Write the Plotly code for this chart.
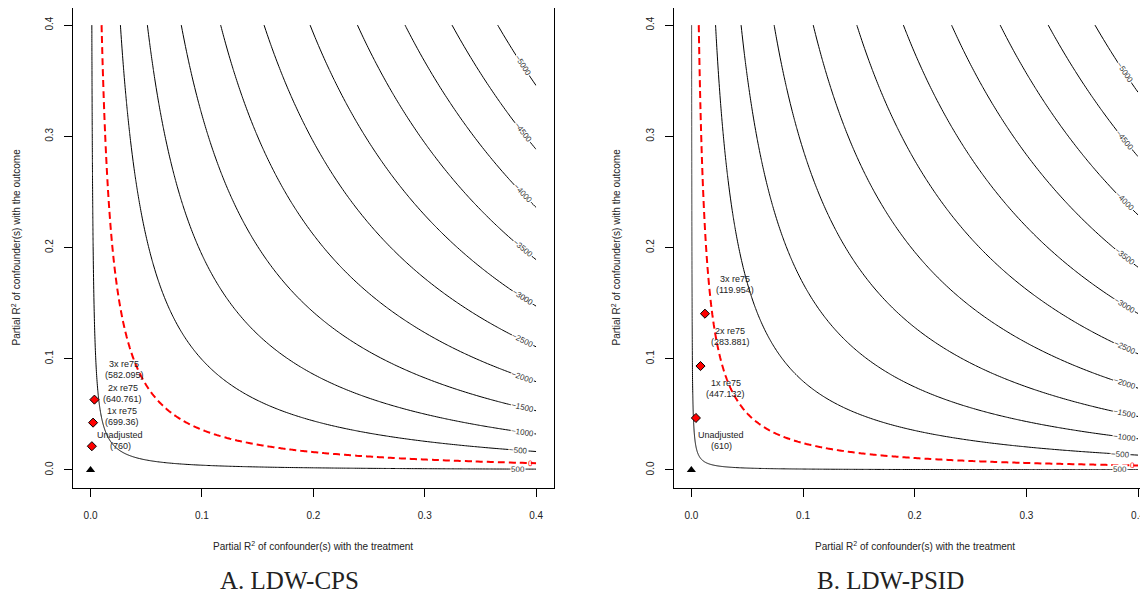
import numpy as np
import plotly.graph_objects as go

# ---------------- data ----------------
panel_titles = ["A. LDW-CPS", "B. LDW-PSID"]
unadjusted_estimates = [760, 610]
unadjusted_labels = ["760", "610"]
bias_scale = [12000, 11790]
contour_levels = [500, 0, -500, -1000, -1500, -2000, -2500, -3000,
                  -3500, -4000, -4500, -5000]
bench_names = ["1x re75", "2x re75", "3x re75"]
cps_bench_r2dz = [0.0012, 0.0023, 0.0035]
cps_bench_r2yz = [0.0213, 0.0425, 0.0632]
cps_bench_est = ["699.36", "640.761", "582.095"]
psid_bench_r2dz = [0.0041, 0.0082, 0.0122]
psid_bench_r2yz = [0.0467, 0.0934, 0.1405]
psid_bench_est = ["447.132", "283.881", "119.954"]
tick_vals = [0, 0.1, 0.2, 0.3, 0.4]
tick_text = ["0.0", "0.1", "0.2", "0.3", "0.4"]
r2_limit = 0.4

# ---------------- layout constants (screen pixels) ----------------
OFF = 8                      # page body margin
W, H = 1148 - OFF, 596 - OFF  # figure size so the page fills the window


def fx(px):
    return (px - OFF) / W


def fy(py):
    return 1 - (py - OFF) / H


SANS = "Liberation Sans, Arial, sans-serif"
SERIF = "Liberation Serif, Times New Roman, serif"
box_top, box_bottom = 8.0, 487.7
panels_px = [  # (box left, box right, x-title centre, y-title x, caption x)
    (72.7, 554.0, 313.0, 15.0, 289.0),
    (673.7, 1148.0, 915.0, 615.0, 890.0),
]
x_ranges = [[-0.016, 0.416], [-0.0158, 0.4089]]
y_range = [-0.016, 0.4154]

bench = [
    (cps_bench_r2dz, cps_bench_r2yz, cps_bench_est),
    (psid_bench_r2dz, psid_bench_r2yz, psid_bench_est),
]

grid = np.concatenate(([0.0], np.geomspace(1e-6, r2_limit, 600)))
GX, GY = np.meshgrid(grid, grid)

fig = go.Figure()
annotations = []
bump = r2_limit / 15.0
LABEL_FONT = dict(family=SANS, size=9, color="#222222")


def two_line_label(x, y, xa, ya, line1, line2):
    for txt, shift in ((line1, 5.5), (line2, -5.5)):
        annotations.append(dict(
            x=x, y=y, xref=xa, yref=ya, text=txt, showarrow=False,
            xanchor="center", yanchor="middle", yshift=shift,
            font=LABEL_FONT))


def label_x(level):
    if level == 0:
        return 0.395
    if level in (500, -500):
        return 0.384
    return 0.388


for p in range(2):
    xa = "x" if p == 0 else "x2"
    ya = "y" if p == 0 else "y2"
    est = unadjusted_estimates[p]
    k = bias_scale[p]
    Z = est - k * np.sqrt(GY * GX / (1.0 - GX))

    neg_levels = [lv for lv in contour_levels if lv < 0]
    pos_levels = [lv for lv in contour_levels if lv > 0]
    common = dict(x=grid, y=grid, z=Z, showscale=False, hoverinfo="skip",
                  autocontour=False, xaxis=xa, yaxis=ya)
    fig.add_trace(go.Contour(
        **common,
        contours=dict(start=min(neg_levels), end=max(neg_levels), size=500,
                      coloring="none", showlabels=False),
        line=dict(color="black", width=1, smoothing=1)))
    for lv in pos_levels:
        fig.add_trace(go.Contour(
            **common,
            contours=dict(start=lv, end=lv + 0.5, size=1000,
                          coloring="none", showlabels=False),
            line=dict(color="black", width=1, smoothing=1)))
    fig.add_trace(go.Contour(
        **common,
        contours=dict(start=0, end=0.5, size=1000,
                      coloring="none", showlabels=False),
        line=dict(color="red", width=2, dash="7px,4px", smoothing=1)))

    # contour labels near the right end of each line
    sx = (panels_px[p][1] - panels_px[p][0]) / (x_ranges[p][1] - x_ranges[p][0])
    sy = (box_bottom - box_top) / (y_range[1] - y_range[0])
    for lv in contour_levels:
        xl = label_x(lv)
        A = ((est - lv) / k) ** 2
        yl = A * (1 - xl) / xl
        slope = -A / xl ** 2
        ang = np.degrees(np.arctan2(-slope * sy, sx))
        txt = str(lv).replace("-", "\u2212")
        annotations.append(dict(
            x=xl, y=yl, xref=xa, yref=ya, text=txt, showarrow=False,
            textangle=float(ang), xanchor="center", yanchor="middle",
            font=dict(family=SANS, size=8,
                      color="red" if lv == 0 else "#333333"),
            bgcolor="rgba(255,255,255,1)" if lv != 0 else "rgba(0,0,0,0)",
            borderpad=0))

    # unadjusted point
    fig.add_trace(go.Scatter(
        x=[0], y=[0], mode="markers", xaxis=xa, yaxis=ya, hoverinfo="skip",
        marker=dict(symbol="triangle-up", size=8, color="black"),
        showlegend=False, cliponaxis=False))
    two_line_label(0 + bump, 0 + bump, xa, ya, "Unadjusted",
                   "(" + unadjusted_labels[p] + ")")

    # benchmark points
    bx, by, be = bench[p]
    fig.add_trace(go.Scatter(
        x=bx, y=by, mode="markers", xaxis=xa, yaxis=ya, hoverinfo="skip",
        marker=dict(symbol="diamond", size=7, color="red",
                    line=dict(color="black", width=1)),
        showlegend=False, cliponaxis=False))
    for i in range(len(bx)):
        two_line_label(bx[i] + bump, by[i] + bump, xa, ya, bench_names[i],
                       "(" + be[i] + ")")

    # axis titles and caption
    l, r, xt, yt, cx = panels_px[p]
    annotations.append(dict(
        x=fx(xt), y=fy(545.7), xref="paper", yref="paper",
        text="Partial R<sup>2</sup> of confounder(s) with the treatment",
        showarrow=False, xanchor="center", yanchor="middle",
        font=dict(family=SANS, size=10, color="#222222")))
    annotations.append(dict(
        x=fx(yt), y=fy((7.3 + box_bottom) / 2), xref="paper",
        yref="paper", textangle=-90,
        text="Partial R<sup>2</sup> of confounder(s) with the outcome",
        showarrow=False, xanchor="center", yanchor="middle",
        font=dict(family=SANS, size=10, color="#222222")))
    annotations.append(dict(
        x=fx(cx), y=fy(580.5), xref="paper", yref="paper",
        text=panel_titles[p], showarrow=False, xanchor="center",
        yanchor="middle", font=dict(family=SERIF, size=25, color="#222222")))

axis_common = dict(
    tickvals=tick_vals, ticktext=tick_text, ticks="outside", ticklen=8,
    tickcolor="black", tickwidth=1, showline=True, linecolor="black",
    linewidth=1, showgrid=False, zeroline=False,
    tickfont=dict(family=SANS, size=10, color="#222222"))

fig.update_layout(
    width=W, height=H, margin=dict(l=0, r=0, t=0, b=0),
    paper_bgcolor="white", plot_bgcolor="white", showlegend=False,
    xaxis=dict(**axis_common, domain=[fx(panels_px[0][0]), fx(panels_px[0][1])],
               range=x_ranges[0], mirror=True, anchor="y",
               ticklabelstandoff=10),
    yaxis=dict(**axis_common, domain=[fy(box_bottom), fy(box_top)],
               range=y_range, mirror=True, anchor="x", tickangle=-90,
               ticklabelstandoff=7),
    xaxis2=dict(**axis_common, domain=[fx(panels_px[1][0]), 1.0],
                range=x_ranges[1], mirror=True, anchor="y2",
                ticklabelstandoff=10),
    yaxis2=dict(**axis_common, domain=[fy(box_bottom), fy(box_top)],
                range=y_range, mirror=False, anchor="x2", tickangle=-90,
                ticklabelstandoff=7),
    annotations=annotations,
)

fig.write_html("out.html")
